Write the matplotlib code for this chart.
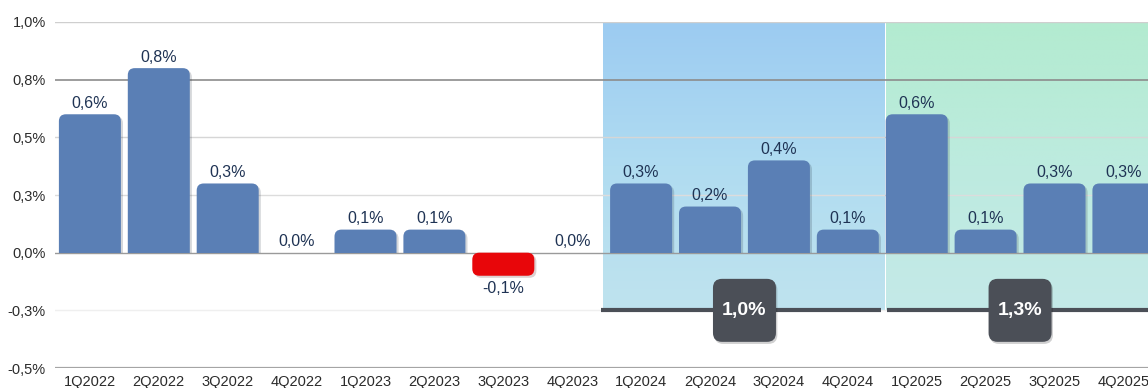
import numpy as np
import matplotlib
matplotlib.use("Agg")
import matplotlib.pyplot as plt
from matplotlib.patches import FancyBboxPatch, Rectangle
from matplotlib.colors import LinearSegmentedColormap
import matplotlib.patheffects as pe

plt.rcParams['font.family'] = ['Liberation Sans', 'DejaVu Sans']

# quarterly growth, %
quarters = ['1Q2022', '2Q2022', '3Q2022', '4Q2022',
            '1Q2023', '2Q2023', '3Q2023', '4Q2023',
            '1Q2024', '2Q2024', '3Q2024', '4Q2024',
            '1Q2025', '2Q2025', '3Q2025', '4Q2025']
growth = [0.6, 0.8, 0.3, 0.0,
          0.1, 0.1, -0.1, 0.0,
          0.3, 0.2, 0.4, 0.1,
          0.6, 0.1, 0.3, 0.3]
growth_labels = ['0,6%', '0,8%', '0,3%', '0,0%',
                 '0,1%', '0,1%', '-0,1%', '0,0%',
                 '0,3%', '0,2%', '0,4%', '0,1%',
                 '0,6%', '0,1%', '0,3%', '0,3%']

# y axis ticks and their printed labels
y_ticks = [1.0, 0.75, 0.5, 0.25, 0.0, -0.25, -0.5]
y_tick_labels = ['1,0%', '0,8%', '0,5%', '0,3%', '0,0%', '-0,3%', '-0,5%']

# yearly totals shown in the highlighted blocks
year_first_q = [8, 12]
year_last_q = [11, 15]
year_totals = ['1,0%', '1,3%']

BAR_COLOR = '#5a7fb5'
NEG_COLOR = '#e8060a'
LABEL_COLOR = '#1f3354'
BOX_COLOR = '#4b4f57'

fig = plt.figure(figsize=(11.48, 3.88), dpi=100)
ax = fig.add_axes([0.0483, 0.0515, 0.9603, 0.8918])
ax.set_xlim(-0.5, len(quarters) - 0.5)
ax.set_ylim(-0.5, 1.0)

# px -> data conversion factors for rounded corners
px_x = 1 / 68.9
px_y = 1.5 / 346

# gradient shading for the highlighted years
shade_maps = [
    LinearSegmentedColormap.from_list('blue', ['#bfe3ee', '#b0dcf1', '#9ccbf2']),
    LinearSegmentedColormap.from_list('green', ['#c4e9e8', '#bdebdf', '#b3ebd0']),
]
grad = np.linspace(0, 1, 256).reshape(-1, 1)
for i, (q0, q1) in enumerate(zip(year_first_q, year_last_q)):
    left = q0 - 0.5 + (-4 * px_x if i == 0 else 4 * px_x)
    right = q1 + 0.5 + (2 * px_x if i == 0 else 0)
    ax.imshow(grad, cmap=shade_maps[i], origin='lower', aspect='auto',
              extent=[left, right, -0.25, 1.0], zorder=0, interpolation='bilinear')

# gridlines
grid_styles = {1.0: ('#cfcfcf', 1.0), 0.75: ('#8c8c8c', 1.2), 0.5: ('#d6d6d6', 1.0),
               0.25: ('#dcdcdc', 1.0), 0.0: ('#9a9a9a', 1.0), -0.25: ('#efefef', 1.0),
               -0.5: ('#a5a5a5', 1.6)}
for y, (c, lw) in grid_styles.items():
    ax.axhline(y, color=c, lw=lw, zorder=1)

# bars with rounded corners
bar_w = 0.9
rx = 7 * px_x
ry = 7 * px_y
for i, v in enumerate(growth):
    if v == 0:
        continue
    if v > 0:
        patch = FancyBboxPatch((i - bar_w / 2, -ry), bar_w, v + ry,
                               boxstyle=f"round,pad=0,rounding_size={rx}",
                               mutation_aspect=ry / rx, fc=BAR_COLOR, ec='none', zorder=3)
        ax.add_patch(patch)
        clip = Rectangle((i - bar_w / 2 - 0.1, 0), bar_w + 0.2, 2, transform=ax.transData)
        patch.set_clip_path(clip)
    else:
        patch = FancyBboxPatch((i - bar_w / 2, v), bar_w, -v,
                               boxstyle=f"round,pad=0,rounding_size={rx}",
                               mutation_aspect=ry / rx, fc=NEG_COLOR, ec='none', zorder=3)
        ax.add_patch(patch)
    patch.set_path_effects([pe.SimplePatchShadow(offset=(1.5, -1.5), alpha=0.18),
                            pe.Normal()])

# value labels
for i, (v, lab) in enumerate(zip(growth, growth_labels)):
    if v < 0:
        ax.annotate(lab, (i, v), xytext=(0, -4), textcoords='offset points',
                    ha='center', va='top', fontsize=11.5, color=LABEL_COLOR, zorder=5)
    else:
        ax.annotate(lab, (i, v), xytext=(0, 2.5), textcoords='offset points',
                    ha='center', va='bottom', fontsize=11.5, color=LABEL_COLOR, zorder=5)

# yearly total: dark line with a rounded badge in the middle
for i, (q0, q1, txt) in enumerate(zip(year_first_q, year_last_q, year_totals)):
    left = q0 - 0.5 - (6 * px_x if i == 0 else -5 * px_x)
    right = q1 + 0.5 - (1 * px_x if i == 0 else 0)
    ax.plot([left, right], [-0.25, -0.25], color=BOX_COLOR, lw=3,
            solid_capstyle='butt', zorder=4)
    cx = (q0 + q1) / 2
    bw, bh = 63 * px_x, 63 * px_y
    badge = FancyBboxPatch((cx - bw / 2, -0.25 - bh / 2), bw, bh,
                           boxstyle=f"round,pad=0,rounding_size={9 * px_x}",
                           mutation_aspect=px_y / px_x, fc=BOX_COLOR, ec='none', zorder=6)
    badge.set_path_effects([pe.SimplePatchShadow(offset=(1, -1.5), alpha=0.2), pe.Normal()])
    ax.add_patch(badge)
    ax.text(cx, -0.25, txt, ha='center', va='center', color='white',
            fontsize=14, fontweight='bold', zorder=7)

ax.set_xticks(range(len(quarters)), quarters)
ax.set_yticks(y_ticks, y_tick_labels)
ax.tick_params(axis='both', length=0, colors='#2b2b2b')
ax.tick_params(axis='y', pad=7, labelsize=10.5)
ax.tick_params(axis='x', pad=5, labelsize=10.5)
for s in ax.spines.values():
    s.set_visible(False)

fig.savefig('out.png', dpi=100)
